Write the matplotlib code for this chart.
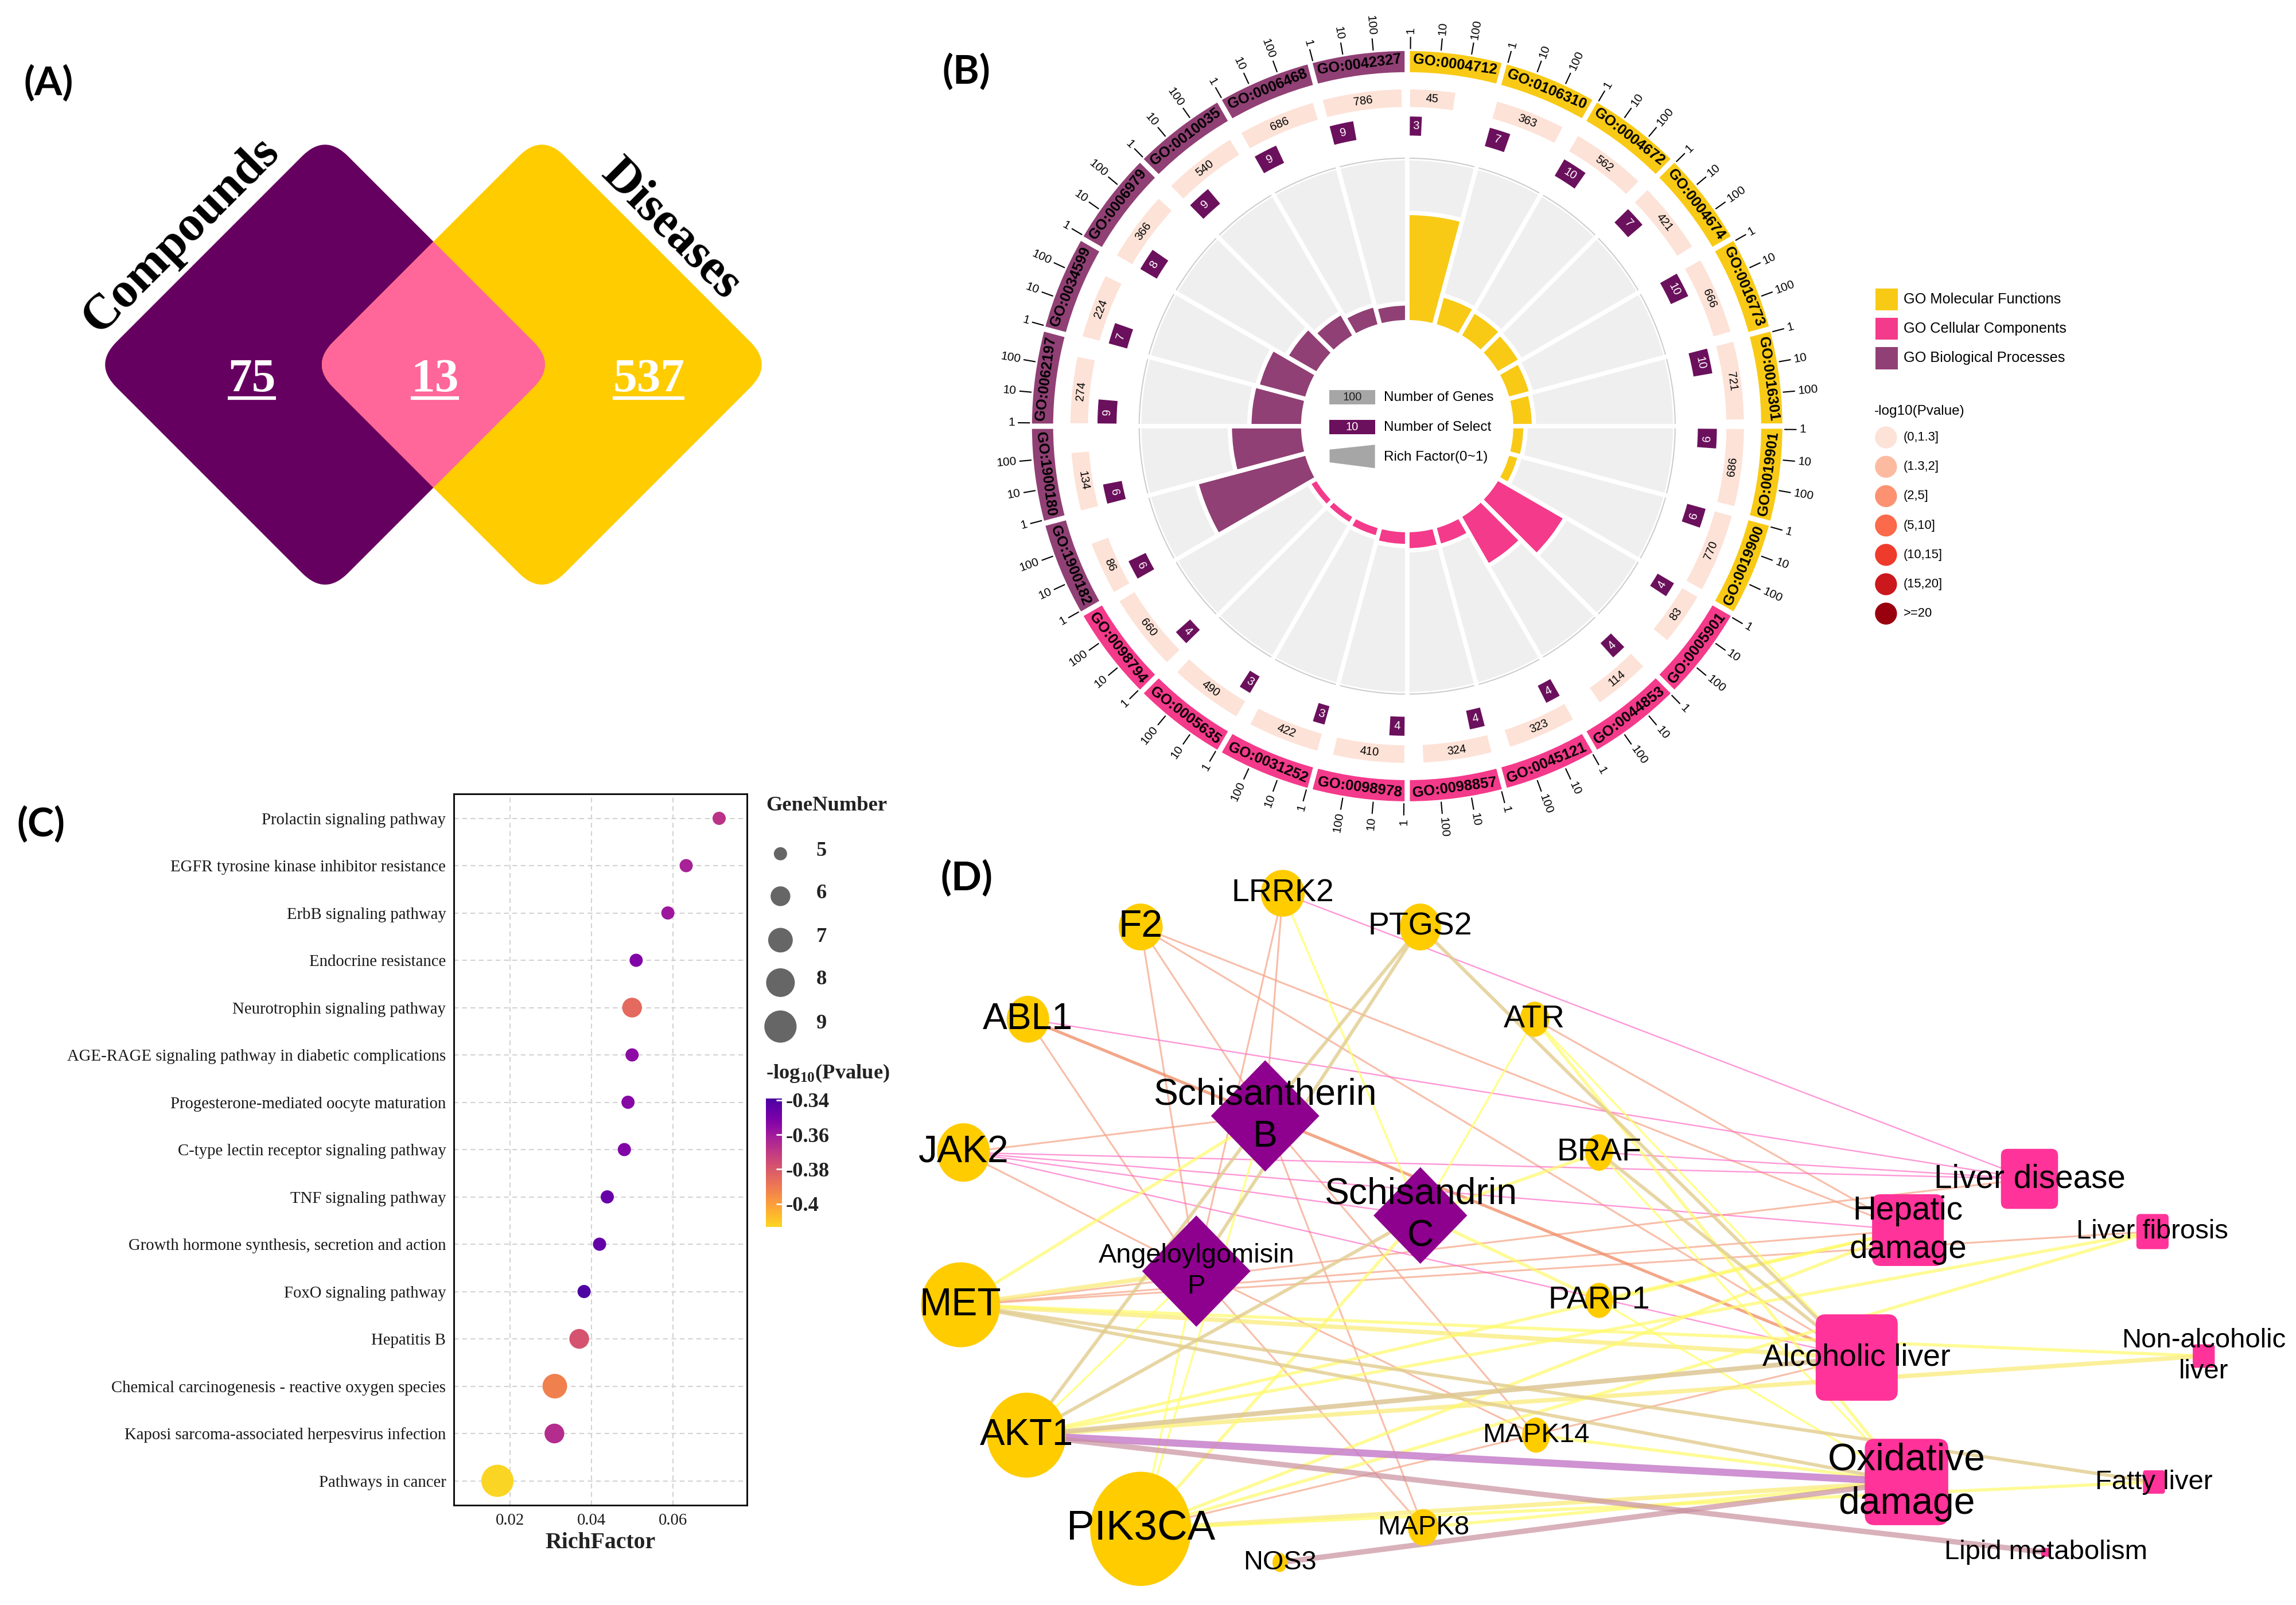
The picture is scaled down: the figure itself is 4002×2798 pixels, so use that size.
import numpy as np
import matplotlib
matplotlib.use("Agg")
import matplotlib.pyplot as plt
from matplotlib.patches import FancyBboxPatch, Ellipse, Polygon, Rectangle
from matplotlib.transforms import Affine2D
from matplotlib.colors import ListedColormap, Normalize
from matplotlib.cm import ScalarMappable

SANS = ["Liberation Sans", "DejaVu Sans"]
SERIF = ["Liberation Serif", "DejaVu Serif"]
plt.rcParams["font.family"] = SANS
plt.rcParams["mathtext.fontset"] = "custom"
plt.rcParams["mathtext.rm"] = "Liberation Serif:bold"

# ---------------- (A) venn ----------------
venn_labels = ["Compounds", "Diseases"]
venn_counts = [75, 13, 537]          # compounds only / shared / diseases only

# ---------------- (B) GO circle ----------------
go_ids = ["GO:0004712", "GO:0106310", "GO:0004672", "GO:0004674", "GO:0016773", "GO:0016301",
          "GO:0019901", "GO:0019900",
          "GO:0005901", "GO:0044853", "GO:0045121", "GO:0098857", "GO:0098978", "GO:0031252",
          "GO:0005635", "GO:0098794",
          "GO:1900182", "GO:1900180", "GO:0062197", "GO:0034599", "GO:0006979", "GO:0010035",
          "GO:0006468", "GO:0042327"]
go_class = ["MF"] * 8 + ["CC"] * 8 + ["BP"] * 8
go_genes = [45, 363, 562, 421, 666, 721, 686, 770,
            83, 114, 323, 324, 410, 422, 490, 660,
            86, 134, 274, 224, 366, 540, 686, 786]
go_select = [3, 7, 10, 7, 10, 10, 6, 6,
             4, 4, 4, 4, 4, 3, 3, 4,
             6, 6, 9, 7, 8, 9, 9, 9]
class_names = ["GO Molecular Functions", "GO Cellular Components", "GO Biological Processes"]
pval_bins = ["(0,1.3]", "(1.3,2]", "(2,5]", "(5,10]", "(10,15]", "(15,20]", ">=20"]

# ---------------- (C) KEGG bubbles ----------------
kegg_terms = ["Prolactin signaling pathway", "EGFR tyrosine kinase inhibitor resistance",
              "ErbB signaling pathway", "Endocrine resistance", "Neurotrophin signaling pathway",
              "AGE-RAGE signaling pathway in diabetic complications",
              "Progesterone-mediated oocyte maturation", "C-type lectin receptor signaling pathway",
              "TNF signaling pathway", "Growth hormone synthesis, secretion and action",
              "FoxO signaling pathway", "Hepatitis B",
              "Chemical carcinogenesis - reactive oxygen species",
              "Kaposi sarcoma-associated herpesvirus infection", "Pathways in cancer"]
kegg_rich = [0.0714, 0.0633, 0.0588, 0.0510, 0.0500, 0.0500, 0.0490, 0.0481,
             0.0439, 0.0420, 0.0382, 0.0370, 0.0310, 0.0309, 0.0169]
kegg_genes = [5, 5, 5, 5, 6, 5, 5, 5, 5, 5, 5, 6, 7, 6, 9]
kegg_logp = [-0.368, -0.362, -0.359, -0.352, -0.385, -0.355, -0.354, -0.352,
             -0.346, -0.345, -0.340, -0.378, -0.392, -0.366, -0.413]

# ---------------- (D) network ----------------
targets = ["F2", "LRRK2", "PTGS2", "ABL1", "ATR", "JAK2", "BRAF", "MET", "PARP1",
           "AKT1", "MAPK14", "PIK3CA", "MAPK8", "NOS3"]
compounds = ["Schisantherin B", "Schisandrin C", "Angeloylgomisin P"]
diseases = ["Liver disease", "Hepatic damage", "Liver fibrosis", "Alcoholic liver",
            "Non-alcoholic liver", "Oxidative damage", "Fatty liver", "Lipid metabolism"]
edges = [
    ("F2", "Schisantherin B", "sal"), ("F2", "Angeloylgomisin P", "sal"),
    ("F2", "Hepatic damage", "sal"), ("F2", "Alcoholic liver", "sal"),
    ("LRRK2", "Schisantherin B", "sal"), ("LRRK2", "Angeloylgomisin P", "sal"),
    ("ABL1", "Angeloylgomisin P", "sal"), ("JAK2", "Schisantherin B", "sal"),
    ("JAK2", "Angeloylgomisin P", "sal"), ("MET", "Hepatic damage", "sal"),
    ("MET", "Liver disease", "sal"), ("MET", "Liver fibrosis", "sal"),
    ("ATR", "Hepatic damage", "sal"), ("MAPK14", "Schisantherin B", "sal"),
    ("MAPK14", "Angeloylgomisin P", "sal"), ("MAPK8", "Schisantherin B", "sal"),
    ("MAPK8", "Angeloylgomisin P", "sal"), ("PIK3CA", "Alcoholic liver", "sal"),
    ("ABL1", "Alcoholic liver", "ora"),
    ("LRRK2", "Liver disease", "pink"), ("ABL1", "Liver disease", "pink"),
    ("JAK2", "Liver disease", "pink"), ("JAK2", "Hepatic damage", "pink"),
    ("JAK2", "Schisandrin C", "pink"), ("JAK2", "Alcoholic liver", "pink"),
    ("BRAF", "Liver disease", "pink"),
    ("LRRK2", "Schisandrin C", "yel1"), ("ATR", "Schisandrin C", "yel1"),
    ("ATR", "Alcoholic liver", "yel1"), ("ATR", "Oxidative damage", "yel2"),
    ("BRAF", "Schisandrin C", "yel2"), ("BRAF", "Oxidative damage", "yel1"),
    ("MET", "Schisantherin B", "yel2"), ("MET", "Angeloylgomisin P", "yel3"),
    ("MET", "Alcoholic liver", "yel3"), ("MET", "Non-alcoholic liver", "yel2"),
    ("AKT1", "Hepatic damage", "yel2"), ("AKT1", "Non-alcoholic liver", "yel3"),
    ("AKT1", "Liver fibrosis", "yel2"), ("AKT1", "Angeloylgomisin P", "yel1"),
    ("PIK3CA", "Schisandrin C", "yel2"), ("PIK3CA", "Angeloylgomisin P", "yel1"),
    ("PIK3CA", "Schisantherin B", "yel1"), ("PIK3CA", "Hepatic damage", "yel2"),
    ("PIK3CA", "Oxidative damage", "yel3"), ("PIK3CA", "Fatty liver", "yel2"),
    ("PIK3CA", "Liver fibrosis", "yel2"), ("MAPK14", "Oxidative damage", "yel2"),
    ("MAPK8", "Oxidative damage", "yel2"), ("PARP1", "Schisandrin C", "yel2"),
    ("PARP1", "Oxidative damage", "yel1"), ("PARP1", "Hepatic damage", "yel2"),
    ("PTGS2", "Schisantherin B", "tan"), ("PTGS2", "Angeloylgomisin P", "tan"),
    ("PTGS2", "Alcoholic liver", "tan"), ("AKT1", "Alcoholic liver", "tan2"),
    ("AKT1", "Schisandrin C", "tan"), ("BRAF", "Alcoholic liver", "tan"),
    ("MET", "Oxidative damage", "tan"), ("MET", "Fatty liver", "tan"),
    ("AKT1", "Schisantherin B", "tan"),
    ("AKT1", "Oxidative damage", "purp"),
    ("AKT1", "Lipid metabolism", "rosy"), ("NOS3", "Oxidative damage", "rosy"),
]

# ---------------- layout (grid of 1568 x 1096 units) ----------------
W, H = 1568, 1096
DPI = 250
fig = plt.figure(figsize=(4002 / DPI, 2798 / DPI), dpi=DPI)
ax0 = fig.add_axes([0, 0, 1, 1])
ax0.set_xlim(0, W)
ax0.set_ylim(H, 0)
ax0.axis("off")

for lab, (x, y) in zip(["(A)", "(B)", "(C)", "(D)"], [(33, 57), (660, 49), (28, 563), (660, 600)]):
    ax0.text(x, y, lab, fontsize=20, fontweight="bold", family=["Lato", "DejaVu Sans"],
             ha="center", va="center")

# ======== A: venn ========
def rounded_diamond(cx, cy, half, rnd, color):
    side = half * np.sqrt(2)
    p = FancyBboxPatch((cx - side / 2, cy - side / 2), side, side,
                       boxstyle=f"round,pad=0,rounding_size={rnd}", fc=color, ec="none")
    p.set_transform(Affine2D().rotate_deg_around(cx, cy, 45) + ax0.transData)
    return p

left = rounded_diamond(222, 249, 158, 22, "#660060")
right = rounded_diamond(370, 249, 158, 22, "#FFCC00")
ax0.add_patch(left)
ax0.add_patch(right)
mid = rounded_diamond(370, 249, 158, 22, "#FF6699")
ax0.add_patch(mid)
mid.set_clip_path(left)

fig.canvas.draw()
rend = fig.canvas.get_renderer()
for val, x in zip(venn_counts, [172, 297, 443]):
    t = ax0.text(x, 267, str(val), color="white", fontsize=24, fontweight="bold",
                 family=SERIF, ha="center", va="baseline")
    bb = t.get_window_extent(rend).transformed(ax0.transData.inverted())
    ax0.plot([bb.x0, bb.x1], [272, 272], color="white", lw=1.8, solid_capstyle="butt")

ax0.text(124, 161, venn_labels[0], rotation=45, fontsize=25, fontweight="bold", family=SERIF,
         ha="center", va="center")
ax0.text(458, 157, venn_labels[1], rotation=-45, fontsize=25, fontweight="bold", family=SERIF,
         ha="center", va="center")

# ======== B: GO circle ========
CX, CY = 961, 291
axb = fig.add_axes([(CX - 300) / W, 1 - (CY + 300) / H, 600 / W, 600 / H], projection="polar")
axb.set_theta_zero_location("N")
axb.set_theta_direction(-1)
axb.set_ylim(0, 300)
axb.set_axis_off()
axb.patch.set_alpha(0)

cls_col = {"MF": "#F8CA16", "CC": "#F43A8A", "BP": "#904074"}
SEL_COL = "#6B105C"
GENE_COL = "#FDE2D7"
SEC = 15.0
USE = 14.0
R_IN, RF_SCALE = 71, 1120


def tang(a):
    return -a if (a <= 90 or a >= 270) else 180 - a


for i, gid in enumerate(go_ids):
    a0 = i * SEC
    ac = a0 + SEC / 2
    col = cls_col[go_class[i]]
    thc = np.deg2rad(ac)
    axb.bar(thc, 112, width=np.deg2rad(SEC), bottom=R_IN, color="#EFEFEF",
            edgecolor="white", linewidth=2.2)
    arc = np.deg2rad(np.linspace(a0 + 0.6, a0 + SEC - 0.6, 30))
    axb.plot(arc, np.full(30, 183), color="#CDCDCD", lw=0.6)
    rf = go_select[i] / go_genes[i]
    axb.bar(thc, rf * RF_SCALE, width=np.deg2rad(SEC), bottom=R_IN, color=col,
            edgecolor="white", linewidth=2.2)
    # outer id ring
    axb.bar(thc, 18, width=np.deg2rad(SEC), bottom=240, color=col, edgecolor="white", linewidth=2.6)
    axb.text(thc, 249, gid, rotation=tang(ac), rotation_mode="anchor", ha="center",
             va="center", fontsize=7.4, fontweight="bold")
    # gene number ring
    wg = np.log10(go_genes[i]) * USE / 3
    axb.bar(np.deg2rad(a0 + 0.5), 12, width=np.deg2rad(wg), bottom=218, align="edge",
            color=GENE_COL, edgecolor="none")
    ag = a0 + 0.5 + wg / 2
    axb.text(np.deg2rad(ag), 224, str(go_genes[i]), rotation=tang(ag), rotation_mode="anchor",
             ha="center", va="center", fontsize=5.8)
    # select number ring
    ws = np.log10(go_select[i]) * USE / 3
    axb.bar(np.deg2rad(a0 + 0.5), 13, width=np.deg2rad(ws), bottom=198.5, align="edge",
            color=SEL_COL, edgecolor="none")
    asl = a0 + 0.5 + ws / 2
    axb.text(np.deg2rad(asl), 205, str(go_select[i]), rotation=tang(asl), rotation_mode="anchor",
             ha="center", va="center", fontsize=5.8, color="white")
    # log ticks
    for k, lab in enumerate(["1", "10", "100"]):
        a = a0 + 0.5 + k * USE / 3
        th = np.deg2rad(a)
        axb.plot([th, th], [258, 265.5], color="black", lw=0.6)
        if a < 180:
            axb.text(th, 268, lab, rotation=90 - a, rotation_mode="anchor", ha="left",
                     va="center", fontsize=6)
        else:
            axb.text(th, 268, lab, rotation=270 - a, rotation_mode="anchor", ha="right",
                     va="center", fontsize=6)

# centre legend
ax0.add_patch(Rectangle((908, 266.3), 31, 10, fc="#A6A6A6", ec="none"))
ax0.text(923.5, 271.3, "100", fontsize=5.8, ha="center", va="center", color="#222222")
ax0.text(945, 271.3, "Number of Genes", fontsize=7, ha="left", va="center")
ax0.add_patch(Rectangle((908, 286.7), 31, 10, fc=SEL_COL, ec="none"))
ax0.text(923.5, 291.7, "10", fontsize=5.8, ha="center", va="center", color="white")
ax0.text(945, 291.7, "Number of Select", fontsize=7, ha="left", va="center")
ax0.add_patch(Polygon([(908, 307), (939, 303.7), (939, 319.7), (908, 315.7)], fc="#A6A6A6", ec="none"))
ax0.text(945, 312, "Rich Factor(0~1)", fontsize=7, ha="left", va="center")

# side legend
for name, key, y in zip(class_names, ["MF", "CC", "BP"], [204.5, 224.5, 244.6]):
    ax0.add_patch(Rectangle((1281, y - 7.5), 15, 15, fc=cls_col[key], ec="none"))
    ax0.text(1300, y, name, fontsize=7.3, ha="left", va="center")
ax0.text(1280, 281, "-log10(Pvalue)", fontsize=7, ha="left", va="center")
bin_cols = ["#FDE2D7", "#FCBBA1", "#FC9272", "#FB6A4A", "#EF3B2C", "#CB181D", "#99000D"]
for j, (lab, c) in enumerate(zip(pval_bins, bin_cols)):
    y = 298.7 + j * 20.05
    ax0.add_patch(Ellipse((1288, y), 15, 15, fc=c, ec="none"))
    ax0.text(1300, y, lab, fontsize=6.3, ha="left", va="center")

# ======== C: KEGG bubble chart ========
PX2PT = (4002 / W) * 72 / DPI


def dot_area(g):
    d = np.sqrt(81 + (np.asarray(g, float) - 5) * 100.75)
    return (d * PX2PT) ** 2


pcmap = ListedColormap(plt.get_cmap("plasma")(np.linspace(0.92, 0.12, 256)))
norm = Normalize(vmin=-0.4135, vmax=-0.339)

axc = fig.add_axes([310 / W, 1 - 1028 / H, 200 / W, 486 / H])
ypos = np.arange(len(kegg_terms))[::-1] + 1
axc.scatter(kegg_rich, ypos, s=dot_area(kegg_genes), c=kegg_logp, cmap=pcmap, norm=norm,
            edgecolors="none", zorder=3)
axc.set_xlim(0.0062, 0.0782)
axc.set_ylim(0.48, 15.52)
axc.set_xticks([0.02, 0.04, 0.06])
axc.set_xticklabels(["0.02", "0.04", "0.06"])
axc.set_yticks(ypos)
axc.set_yticklabels(kegg_terms)
axc.grid(True, ls=(0, (4, 3)), color="#D2D2D2", lw=0.6)
axc.set_axisbelow(True)
axc.tick_params(length=0, pad=4, labelsize=8.3, labelcolor="#1a1a1a")
for lab in axc.get_xticklabels() + axc.get_yticklabels():
    lab.set_family(SERIF)
for sp in axc.spines.values():
    sp.set_linewidth(0.8)
axc.set_xlabel("RichFactor", fontsize=11.5, fontweight="bold", family=SERIF, labelpad=2,
               color="#222222")

ax0.text(523, 550, "GeneNumber", fontsize=10.5, fontweight="bold", family=SERIF,
         ha="left", va="center", color="#222222")
leg_y = [583, 612, 642, 671, 701]
ax0.scatter([533] * 5, leg_y, s=dot_area([5, 6, 7, 8, 9]), c="#666666", edgecolors="none")
for g, y in zip([5, 6, 7, 8, 9], leg_y):
    ax0.text(561, y - 2, str(g), fontsize=10.5, fontweight="bold", family=SERIF,
             ha="center", va="center", color="#222222")
ax0.text(523, 733, r"-log$_{10}$(Pvalue)", fontsize=10.5, fontweight="bold", family=SERIF,
         ha="left", va="center", color="#222222")
cax = fig.add_axes([523 / W, 1 - 838 / H, 11 / W, 88 / H])
cb = fig.colorbar(ScalarMappable(norm=norm, cmap=pcmap), cax=cax,
                  ticks=[-0.34, -0.36, -0.38, -0.40])
cb.outline.set_visible(False)
cb.ax.set_yticklabels(["-0.34", "-0.36", "-0.38", "-0.4"])
cb.ax.tick_params(length=3, width=0.8, color="white", direction="in", pad=2,
                  labelsize=10.5, labelcolor="#222222")
for lab in cb.ax.get_yticklabels():
    lab.set_family(SERIF)
    lab.set_fontweight("bold")

# ======== D: network ========
pos = {
    "F2": (779, 633), "LRRK2": (876, 610), "PTGS2": (970, 633), "ABL1": (702, 696),
    "ATR": (1048, 696), "JAK2": (658, 787), "BRAF": (1092, 787), "MET": (656, 891),
    "PARP1": (1092, 888), "AKT1": (701, 980), "MAPK14": (1049, 980), "PIK3CA": (779, 1044),
    "MAPK8": (972, 1043), "NOS3": (874, 1067),
    "Schisantherin B": (864, 762), "Schisandrin C": (970, 830), "Angeloylgomisin P": (817, 868),
    "Liver disease": (1386, 805), "Hepatic damage": (1303, 840), "Liver fibrosis": (1470, 841),
    "Alcoholic liver": (1268, 927), "Non-alcoholic liver": (1505, 926),
    "Oxidative damage": (1302, 1012), "Fatty liver": (1471, 1012), "Lipid metabolism": (1397, 1060),
}
node_wh = {
    "F2": (30, 32), "LRRK2": (30, 32), "PTGS2": (28, 32), "ABL1": (29, 32), "ATR": (20, 24),
    "JAK2": (36, 40), "BRAF": (19, 25), "MET": (54, 58), "PARP1": (19, 24), "AKT1": (54, 58),
    "MAPK14": (19, 24), "PIK3CA": (69, 78), "MAPK8": (21, 25), "NOS3": (10, 13),
    "Schisantherin B": (74, 76), "Schisandrin C": (64, 66), "Angeloylgomisin P": (74, 76),
    "Liver disease": (39, 41), "Hepatic damage": (49, 49), "Liver fibrosis": (22, 24),
    "Alcoholic liver": (56, 59), "Non-alcoholic liver": (15, 16), "Oxidative damage": (57, 59),
    "Fatty liver": (15, 16), "Lipid metabolism": (6, 6),
}
labels = {
    "Schisantherin B": "Schisantherin\nB", "Schisandrin C": "Schisandrin\nC",
    "Angeloylgomisin P": "Angeloylgomisin\nP", "Hepatic damage": "Hepatic\ndamage",
    "Oxidative damage": "Oxidative\ndamage", "Non-alcoholic liver": "Non-alcoholic\nliver",
}
label_pt = {
    "F2": 19, "LRRK2": 16, "PTGS2": 16, "ABL1": 18.5, "ATR": 16, "JAK2": 19, "BRAF": 16,
    "MET": 19.5, "PARP1": 16, "AKT1": 18.8, "MAPK14": 13.6, "PIK3CA": 21, "MAPK8": 13.6,
    "NOS3": 13.5, "Schisantherin B": 18.5, "Schisandrin C": 18.5, "Angeloylgomisin P": 13.5,
    "Liver disease": 16.3, "Hepatic damage": 16.3, "Liver fibrosis": 13.6,
    "Alcoholic liver": 15.4, "Non-alcoholic liver": 13.6, "Oxidative damage": 19,
    "Fatty liver": 13.6, "Lipid metabolism": 13.6,
}
# edge colour, width (pt), alpha
edge_style = {
    "sal": ("#F6A88C", 0.9, 0.75), "ora": ("#F08A62", 1.5, 0.75), "pink": ("#FF6EC7", 0.7, 0.7),
    "yel1": ("#FFFF66", 1.0, 0.75), "yel2": ("#FFFA6A", 1.6, 0.7), "yel3": ("#FAEC7A", 2.2, 0.75),
    "tan": ("#E2CC8E", 1.7, 0.8), "tan2": ("#DDC694", 2.4, 0.85),
    "purp": ("#C77FCB", 3.6, 0.85), "rosy": ("#C9909F", 2.7, 0.7),
}
for a, b, st in edges:
    c, lw, al = edge_style[st]
    (x1, y1), (x2, y2) = pos[a], pos[b]
    ax0.plot([x1, x2], [y1, y2], color=c, lw=lw, alpha=al, solid_capstyle="butt", zorder=2)

for n in targets:
    w, h = node_wh[n]
    ax0.add_patch(Ellipse(pos[n], w, h, fc="#FFCC00", ec="none", zorder=3))
for n in compounds:
    w, h = node_wh[n]
    x, y = pos[n]
    ax0.add_patch(Polygon([(x, y - h / 2), (x + w / 2, y), (x, y + h / 2), (x - w / 2, y)],
                          fc="#8E008E", ec="none", zorder=3))
for n in diseases:
    w, h = node_wh[n]
    x, y = pos[n]
    ax0.add_patch(FancyBboxPatch((x - w / 2, y - h / 2), w, h,
                                 boxstyle=f"round,pad=0,rounding_size={min(w, h) * 0.12}",
                                 fc="#FF3399", ec="none", zorder=3))
for n in targets + compounds + diseases:
    x, y = pos[n]
    ax0.text(x, y, labels.get(n, n), fontsize=label_pt[n], ha="center", va="center",
             linespacing=1.3, zorder=4)

fig.savefig("out.png", dpi=DPI)
